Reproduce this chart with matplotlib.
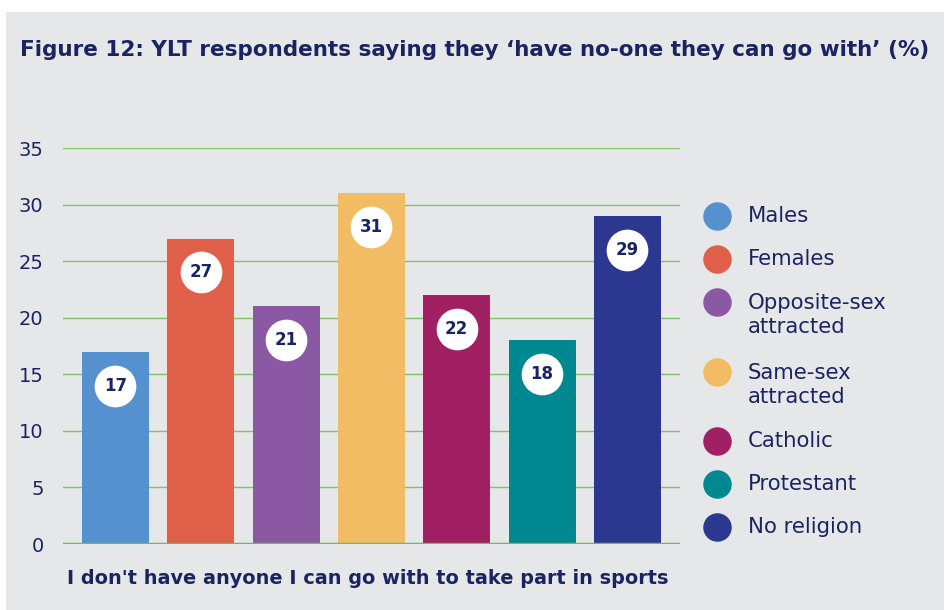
import matplotlib.pyplot as plt
from matplotlib.patches import Rectangle

groups = ["Males", "Females", "Opposite-sex\nattracted", "Same-sex\nattracted",
          "Catholic", "Protestant", "No religion"]
values = [17, 27, 21, 31, 22, 18, 29]
colors = ["#5591CE", "#E05F48", "#8B58A4", "#F2BC64", "#A11F63", "#008890", "#2C388F"]
yticks = [0, 5, 10, 15, 20, 25, 30, 35]

navy = "#1B2463"
bg = "#E6E7E9"
green = "#6CC04A"

plt.rcParams['font.family'] = ['DejaVu Sans']

W, H = 944, 610
fig = plt.figure(figsize=(W / 100, H / 100), dpi=100)
fig.patch.set_facecolor("white")
fig.add_artist(Rectangle((6 / W, 0), 1, 1 - 12 / H, transform=fig.transFigure,
                         facecolor=bg, edgecolor="none", zorder=0))

# axes box in pixels: x 63..680, y 148..544 (y=35 at top)
ax = fig.add_axes([63 / W, (H - 544) / H, (680 - 63) / W, (544 - 148) / H])
ax.set_facecolor("none")
x = list(range(len(values)))
ax.bar(x, values, width=0.785, color=colors, zorder=2)
ax.set_xlim(-0.615, 6.617)
ax.set_ylim(0, 35)

for xi, v in zip(x, values):
    ax.plot(xi, v - 3.0, "o", ms=29, mfc="white", mec="white", zorder=3)
    ax.text(xi, v - 3.0, str(v), ha="center", va="center", color=navy,
            fontsize=12, fontweight="bold", zorder=4)

ax.set_yticks(yticks)
ax.set_xticks([])
ax.grid(axis="y", color=green, lw=1.0, alpha=0.85, zorder=1)
ax.axhline(0, color=green, lw=2.5, zorder=3)
for s in ax.spines.values():
    s.set_visible(False)
ax.tick_params(axis="y", length=0, pad=14, labelsize=14, labelcolor=navy)

title = fig.text(20 / W, 1 - 50 / H,
                 "Figure 12: YLT respondents saying they \u2018have no-one they can go with\u2019 (%)",
                 fontsize=15, fontweight="bold", color=navy, va="center", ha="left")
xlab = fig.text(67 / W, 1 - 578 / H,
                "I don't have anyone I can go with to take part in sports",
                fontsize=14, fontweight="bold", color=navy, va="center", ha="left")

# fit text widths to the reference
r = fig.canvas.get_renderer()
for t, target in [(title, 912), (xlab, 601)]:
    w = t.get_window_extent(r).width
    t.set_fontsize(t.get_fontsize() * target / w)

# legend
leg_y = [216, 259, 315, 385, 441, 484, 527]
for g, c, yy in zip(groups, colors, leg_y):
    cy = yy if "\n" not in g else yy - 13
    fig.lines.append(plt.Line2D([717 / W], [1 - cy / H],
                                marker="o", ms=19.5, mfc=c, mec=c, ls="none",
                                transform=fig.transFigure))
    fig.text(748 / W, 1 - yy / H, g, fontsize=15.3, color=navy, va="center",
             ha="left", linespacing=1.25)

fig.savefig("out.png", dpi=100, facecolor=fig.get_facecolor())
